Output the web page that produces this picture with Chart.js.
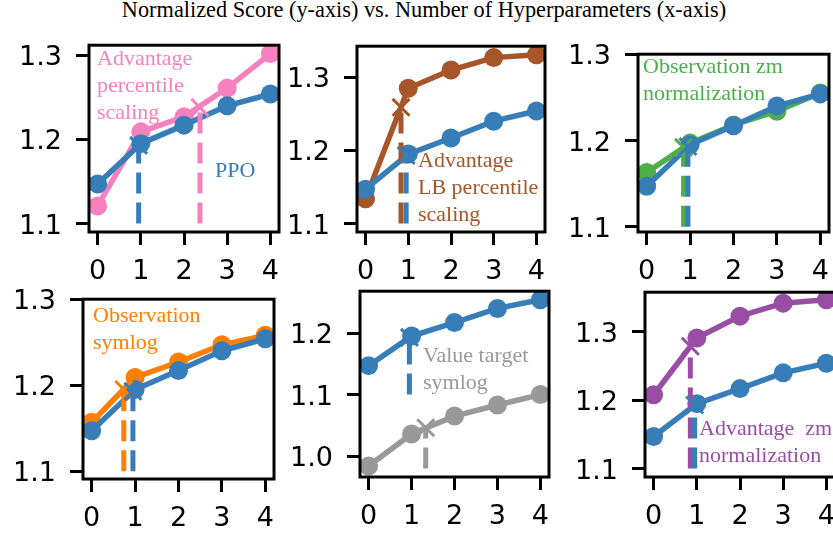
<!DOCTYPE html>
<html>
<head>
<meta charset="utf-8">
<script src="https://cdn.jsdelivr.net/npm/chart.js@4.4.1/dist/chart.umd.min.js"></script>
<style>
  html, body { margin: 0; padding: 0; background: #fff; }
  body { width: 833px; height: 534px; overflow: hidden; position: relative; }
  #title {
    position: absolute; left: 0; top: -1px; width: 848px; text-align: center;
    font: 22.3px "Liberation Serif", "Times New Roman", serif; line-height: 22px; color: #000;
  }
  canvas { position: absolute; }
</style>
</head>
<body>
<div id="title">Normalized Score (y-axis) vs. Number of Hyperparameters (x-axis)</div>
<script>
'use strict';

// number of hyperparameters (x) and tick labels
var xs = [0, 1, 2, 3, 4];
var xTickLabels = ['0', '1', '2', '3', '4'];

// normalized score per method
var ppo = [1.147, 1.195, 1.217, 1.240, 1.254];
var advPercentile = [1.121, 1.209, 1.227, 1.261, 1.302];
var advLbPercentile = [1.134, 1.285, 1.310, 1.327, 1.331];
var obsZm = [1.163, 1.197, 1.218, 1.234, 1.255];
var obsSymlog = [1.157, 1.209, 1.227, 1.247, 1.258];
var valueSymlog = [0.984, 1.036, 1.065, 1.083, 1.100];
var advZm = [1.208, 1.291, 1.323, 1.342, 1.347];

// crossing marks: [x, y, dashed line starts at y]
var ppoCross = [0.95, 1.193, 1.1];
var advPercentileCross = [2.37, 1.238, 1.1];
var advLbPercentileCross = [0.83, 1.259, 1.1];
var obsZmCross = [0.85, 1.192, 1.1];
var obsSymlogCross = [0.74, 1.195, 1.1];
var valueSymlogCross = [1.33, 1.046, 0.98];
var advZmCross = [0.85, 1.279, 1.1];

// y tick values
var yTicksHigh = [1.1, 1.2, 1.3];
var yTicksLow = [1.0, 1.1, 1.2];

var BLUE = '#377eb8';
var SERIF = '22px "Liberation Serif", "Times New Roman", serif';
var PAD = 30, YW = 80, XH = 60;

var panels = [
  { box: [89, 45, 279, 232], yMin: 1.090, yMax: 1.312, yTicks: yTicksHigh,
    color: '#f781bf', values: advPercentile, cross: advPercentileCross,
    notes: [{ lines: ['Advantage', 'percentile', 'scaling'], color: '#f781bf', dx: 8, dy: 20 },
            { lines: ['PPO'], color: BLUE, dx: 126, dy: 132 }] },
  { box: [357, 46, 545, 232], yMin: 1.0884, yMax: 1.3426, yTicks: yTicksHigh,
    color: '#a65628', values: advLbPercentile, cross: advLbPercentileCross,
    notes: [{ lines: ['Advantage', 'LB percentile', 'scaling'], color: '#a65628', dx: 61, dy: 121 }] },
  { box: [638, 54, 829, 232], yMin: 1.094, yMax: 1.3, yTicks: yTicksHigh,
    color: '#4daf4a', values: obsZm, cross: obsZmCross,
    notes: [{ lines: ['Observation zm', 'normalization'], color: '#4daf4a', dx: 5, dy: 19 }] },
  { box: [83, 299, 274, 479], yMin: 1.091, yMax: 1.3, yTicks: yTicksHigh,
    color: '#ff7f00', values: obsSymlog, cross: obsSymlogCross,
    notes: [{ lines: ['Observation', 'symlog'], color: '#ff7f00', dx: 10, dy: 23 }] },
  { box: [360, 291, 549, 477], yMin: 0.966, yMax: 1.268, yTicks: yTicksLow,
    color: '#999999', values: valueSymlog, cross: valueSymlogCross,
    notes: [{ lines: ['Value target', 'symlog'], color: '#999999', dx: 63, dy: 71 }] },
  { box: [645, 292, 835, 477], yMin: 1.0877, yMax: 1.358, yTicks: yTicksHigh,
    color: '#984ea3', values: advZm, cross: advZmCross,
    notes: [{ lines: ['Advantage  zm', 'normalization'], color: '#984ea3', dx: 54, dy: 143 }] }
];

// notes + full box frame
var decor = {
  id: 'decor',
  afterDatasetsDraw: function(chart, args, opts) {
    var a = chart.chartArea, ctx = chart.ctx;
    ctx.save();
    ctx.font = SERIF;
    ctx.textAlign = 'left';
    ctx.textBaseline = 'alphabetic';
    (opts.notes || []).forEach(function(n) {
      ctx.fillStyle = n.color;
      n.lines.forEach(function(t, i) {
        ctx.fillText(t, a.left + n.dx, a.top + n.dy + i * 27);
      });
    });
    ctx.strokeStyle = '#000';
    ctx.lineWidth = 3;
    ctx.strokeRect(a.left, a.top, a.right - a.left, a.bottom - a.top);
    ctx.restore();
  }
};

function curve(values, color, order) {
  return {
    data: xs.map(function(x, i) { return { x: x, y: values[i] }; }),
    borderColor: color, backgroundColor: color, borderWidth: 5.5,
    pointRadius: 9.5, pointBackgroundColor: color, pointBorderWidth: 0,
    tension: 0, order: order, clip: 0
  };
}

function crossing(c, color, order) {
  return {
    data: [{ x: c[0], y: c[2] }, { x: c[0], y: c[1] }],
    borderColor: color, borderWidth: 5, borderDash: [21, 9],
    pointRadius: [0, 12], pointStyle: 'crossRot',
    pointBorderColor: color, pointBackgroundColor: color, pointBorderWidth: 3,
    tension: 0, order: order, clip: 0
  };
}

function axisGrid() {
  return { drawOnChartArea: false, drawTicks: true, tickLength: 13, tickWidth: 3, tickColor: '#000' };
}

panels.forEach(function(p) {
  var L = p.box[0], T = p.box[1], R = p.box[2], B = p.box[3];
  var cv = document.createElement('canvas');
  cv.width = (R - L) + YW + PAD;
  cv.height = (B - T) + PAD + XH;
  cv.style.left = (L - YW) + 'px';
  cv.style.top = (T - PAD) + 'px';
  document.body.appendChild(cv);

  new Chart(cv.getContext('2d'), {
    type: 'line',
    data: {
      datasets: [
        crossing(ppoCross, BLUE, 0),
        crossing(p.cross, p.color, 1),
        curve(ppo, BLUE, 2),
        curve(p.values, p.color, 3)
      ]
    },
    options: {
      responsive: false,
      animation: false,
      devicePixelRatio: 1,
      layout: { padding: { top: PAD, right: PAD, left: 0, bottom: 0 } },
      plugins: { legend: { display: false }, tooltip: { enabled: false }, decor: { notes: p.notes } },
      scales: {
        x: {
          type: 'linear', min: -0.2, max: 4.2,
          afterBuildTicks: function(s) { s.ticks = xs.map(function(v) { return { value: v }; }); },
          afterFit: function(s) { s.height = XH; },
          grid: axisGrid(),
          border: { display: false },
          ticks: {
            color: '#000', font: { family: 'DejaVu Sans', size: 27 }, padding: 11,
            maxRotation: 0, autoSkip: false,
            callback: function(v, i) { return xTickLabels[i]; }
          }
        },
        y: {
          type: 'linear', min: p.yMin, max: p.yMax,
          afterBuildTicks: function(s) { s.ticks = p.yTicks.map(function(v) { return { value: v }; }); },
          afterFit: function(s) { s.width = YW; },
          grid: axisGrid(),
          border: { display: false },
          ticks: {
            color: '#000', font: { family: 'DejaVu Sans', size: 27 }, padding: 14, labelOffset: 3,
            autoSkip: false,
            callback: function(v) { return v.toFixed(1); }
          }
        }
      }
    },
    plugins: [decor]
  });
});
</script>
</body>
</html>
